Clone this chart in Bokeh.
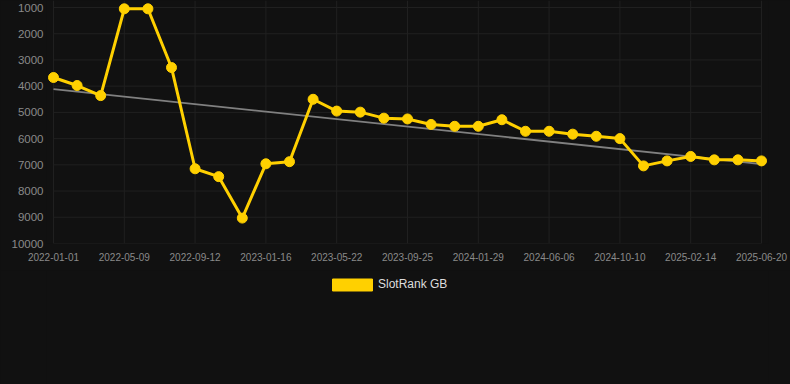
import numpy as np
from bokeh.plotting import figure
from bokeh.layouts import column
from bokeh.models import Range1d, FixedTicker, Legend, LegendItem, ColumnDataSource
from bokeh.embed import file_html
from bokeh.resources import INLINE

# ---- data ----
tick_labels = ["2022-01-01", "2022-05-09", "2022-09-12", "2023-01-16", "2023-05-22",
               "2023-09-25", "2024-01-29", "2024-06-06", "2024-10-10", "2025-02-14",
               "2025-06-20"]
rank_gb = [3670, 3975, 4360, 1050, 1050, 3290, 7150, 7450, 9030, 6960, 6880,
           4500, 4950, 4990, 5220, 5250, 5460, 5530, 5530, 5280, 5720, 5720,
           5830, 5910, 6000, 7040, 6850, 6680, 6810, 6810, 6850]
y_ticks = [1000, 2000, 3000, 4000, 5000, 6000, 7000, 8000, 9000, 10000]
series_name = "SlotRank GB"

# ---- layout ----
W = 790
H1, H2 = 270, 114
n = len(rank_gb)
x_first_img, x_last_img = 53, 761
dx = (x_last_img - x_first_img) / (n - 1)
frame_left_img, frame_right_img = 46, 768
y_top_img, y_bot_img = 7, 243
frame_top_img = 0
k = (y_bot_img - y_top_img) / (y_ticks[-1] - y_ticks[0])

xs = list(range(n))
x_start = (frame_left_img - x_first_img) / dx
x_end = (n - 1) + (frame_right_img - x_last_img) / dx
y_end = y_ticks[0] - (y_top_img - frame_top_img) / k

BG = "#111111"
GRID = "#202020"
gold = "#FFD000"

p = figure(width=W, height=H1, output_backend="svg", toolbar_location=None,
           x_range=Range1d(x_start, x_end), y_range=Range1d(y_ticks[-1], y_end),
           min_border_left=frame_left_img, min_border_right=W - frame_right_img,
           min_border_top=frame_top_img, min_border_bottom=H1 - y_bot_img)
p.background_fill_color = BG
p.border_fill_color = BG
p.outline_line_color = None
p.grid.visible = False

tick_idx = list(range(0, n, 3))
p.xaxis.ticker = FixedTicker(ticks=tick_idx)
p.xaxis.major_label_overrides = {i: lbl for i, lbl in zip(tick_idx, tick_labels)}
p.yaxis.ticker = FixedTicker(ticks=y_ticks)

for ax in (p.xaxis, p.yaxis):
    ax.axis_line_color = None
    ax.major_tick_line_color = None
    ax.minor_tick_line_color = None
    ax.major_tick_out = 0
    ax.major_tick_in = 0
    ax.major_label_text_font = "Liberation Sans"
p.yaxis.major_label_text_font_size = "11.5px"
p.yaxis.major_label_text_color = "#8a8a8a"
p.yaxis.major_label_standoff = 3
p.xaxis.major_label_text_font_size = "10px"
p.xaxis.major_label_text_color = "#8a8a8a"
p.xaxis.major_label_standoff = 9

# grid lines spanning only the data area (tick positions from the tick arrays)
p.segment(x0=tick_idx, x1=tick_idx, y0=[y_end] * len(tick_idx),
          y1=[y_ticks[-1]] * len(tick_idx), line_color=GRID, line_width=1)
p.segment(x0=[0] * len(y_ticks), x1=[n - 1] * len(y_ticks), y0=y_ticks, y1=y_ticks,
          line_color=GRID, line_width=1)

# trend line (least squares of the series)
coef = np.polyfit(xs, rank_gb, 1)
trend = [coef[0] * x + coef[1] for x in (0, n - 1)]
p.line([0, n - 1], trend, line_color="#808080", line_width=1.8)

src = ColumnDataSource(dict(x=xs, y=rank_gb))
p.line("x", "y", source=src, line_color=gold, line_width=3)
p.scatter("x", "y", source=src, size=10, fill_color=gold, line_color=gold)

# ---- legend strip ----
q = figure(width=W, height=H2, output_backend="svg", toolbar_location=None,
           x_range=Range1d(0, 1), y_range=Range1d(0, 1),
           x_axis_type=None, y_axis_type=None,
           min_border_left=0, min_border_right=0, min_border_top=0, min_border_bottom=0)
q.background_fill_color = BG
q.border_fill_color = BG
q.outline_line_color = None
q.grid.visible = False
swatch = q.quad(left=[np.nan], right=[np.nan], top=[np.nan], bottom=[np.nan],
                fill_color=gold, line_color=gold)
legend = Legend(items=[LegendItem(label=series_name, renderers=[swatch])],
                location=(281, H2 - (291.5 - H1)),
                orientation="horizontal", padding=0, margin=0, spacing=0,
                glyph_width=50, glyph_height=15, label_height=15, label_standoff=1,
                label_text_font="Liberation Sans", label_text_font_size="12px",
                label_text_color="#dddddd", background_fill_alpha=0,
                border_line_color=None)
q.add_layout(legend)

layout = column(p, q, spacing=0)
tpl = "{% block preamble %}<style>html,body{background:#111111;}</style>{% endblock %}"
open("out.html", "w").write(file_html(layout, INLINE, template=tpl))
